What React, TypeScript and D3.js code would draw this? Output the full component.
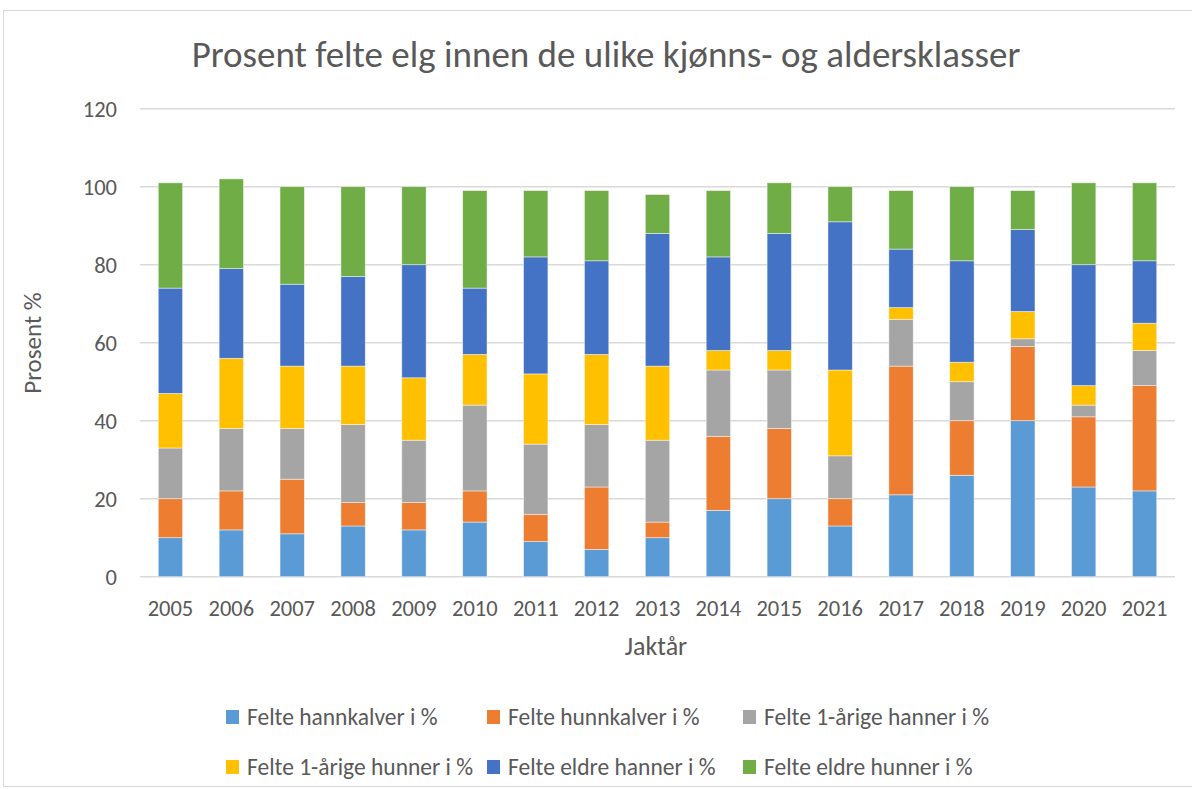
import React from "react";
import * as d3 from "d3";

const years = ["2005","2006","2007","2008","2009","2010","2011","2012","2013","2014","2015","2016","2017","2018","2019","2020","2021"];
const seriesNames = [
  "Felte hannkalver i %",
  "Felte hunnkalver i %",
  "Felte 1-årige hanner i %",
  "Felte 1-årige hunner i %",
  "Felte eldre hanner i %",
  "Felte eldre hunner i %",
];
const hannkalver = [10,12,11,13,12,14,9,7,10,17,20,13,21,26,40,23,22];
const hunnkalver = [10,10,14,6,7,8,7,16,4,19,18,7,33,14,19,18,27];
const aarigeHanner = [13,16,13,20,16,22,18,16,21,17,15,11,12,10,2,3,9];
const aarigeHunner = [14,18,16,15,16,13,18,18,19,5,5,22,3,5,7,5,7];
const eldreHanner = [27,23,21,23,29,17,30,24,34,24,30,38,15,26,21,31,16];
const eldreHunner = [27,23,25,23,20,25,17,18,10,17,13,9,15,19,10,21,20];
const yTicks = [0,20,40,60,80,100,120];
const colors = ["#5B9BD5","#ED7D31","#A5A5A5","#FFC000","#4472C4","#70AD47"];

const FONT = "Carlito, Lato, sans-serif";
const TXT = "#595959";

export default function App() {
  const W = 1192, H = 789;
  const left = 140, right = 1175, top = 108.7, bottom = 576.7;
  const allSeries = [hannkalver, hunnkalver, aarigeHanner, aarigeHunner, eldreHanner, eldreHunner];
  const rows = years.map((y, i) => {
    const r: any = { year: y };
    allSeries.forEach((s, k) => (r["s" + k] = s[i]));
    return r;
  });
  const keys = allSeries.map((_, k) => "s" + k);
  const stacked = d3.stack().keys(keys)(rows);
  const x = d3.scaleBand().domain(years).range([left, right]).paddingInner(0.6).paddingOuter(0.3);
  const y = d3.scaleLinear().domain([0, 120]).range([bottom, top]);
  const legendCols = [226, 487, 743];
  const legendRows = [717, 767];

  return (
    <svg width={W} height={H} style={{ position: "absolute", left: 0, top: 0, background: "#fff" }}>
      <rect x={3.5} y={10.5} width={1300} height={776} fill="#fff" stroke="#d9d9d9" strokeWidth={1} />
      <text x={606} y={67} textAnchor="middle" fontFamily={FONT} fontSize={37} fill={TXT}>
        Prosent felte elg innen de ulike kjønns- og aldersklasser
      </text>
      {yTicks.map((t) => (
        <g key={t}>
          <line x1={left} x2={right} y1={y(t)} y2={y(t)} stroke="#d9d9d9" strokeWidth={1.5} />
          <text x={117} y={y(t)} dy="0.35em" textAnchor="end" fontFamily={FONT} fontSize={22.5} fill={TXT}>{t}</text>
        </g>
      ))}
      {stacked.map((layer, k) => (
        <g key={k} fill={colors[k]}>
          {layer.map((d, i) => (
            <rect key={i} x={x(years[i])} width={x.bandwidth()} y={y(d[1])} height={y(d[0]) - y(d[1])}
              stroke="#ffffff" strokeOpacity={0.6} strokeWidth={0.75} />
          ))}
        </g>
      ))}
      {years.map((yr) => (
        <text key={yr} x={(x(yr) as number) + x.bandwidth() / 2} y={616} textAnchor="middle" fontFamily={FONT} fontSize={22.5} fill={TXT}>{yr}</text>
      ))}
      <text x={656} y={655} textAnchor="middle" fontFamily={FONT} fontSize={26} fill={TXT}>Jaktår</text>
      <text transform="translate(41,343) rotate(-90)" textAnchor="middle" fontFamily={FONT} fontSize={25} fill={TXT}>Prosent %</text>
      {seriesNames.map((n, k) => {
        const cx = legendCols[k % 3];
        const cy = legendRows[Math.floor(k / 3)];
        return (
          <g key={n}>
            <rect x={cx} y={cy - 7} width={13} height={14} fill={colors[k]} />
            <text x={cx + 21} y={cy} dy="0.35em" fontFamily={FONT} fontSize={23.5} fill={TXT}>{n}</text>
          </g>
        );
      })}
    </svg>
  );
}
